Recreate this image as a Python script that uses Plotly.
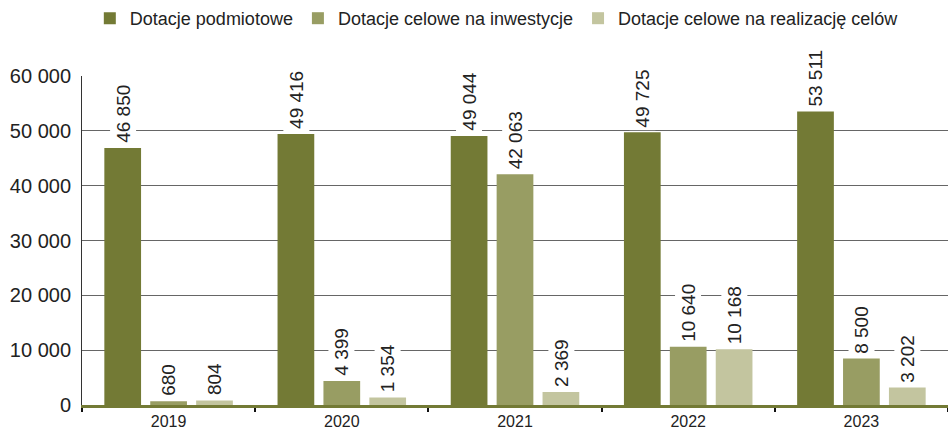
import plotly.graph_objects as go

years = ["2019", "2020", "2021", "2022", "2023"]
series_names = ["Dotacje podmiotowe", "Dotacje celowe na inwestycje", "Dotacje celowe na realizację celów"]
podmiotowe = [46850, 49416, 49044, 49725, 53511]
inwestycje = [680, 4399, 42063, 10640, 8500]
realizacja = [804, 1354, 2369, 10168, 3202]
y_ticks = [0, 10000, 20000, 30000, 40000, 50000, 60000]

colors = ["#737a35", "#989d63", "#c3c59f"]
FONT = "Liberation Sans, Arial, Helvetica, sans-serif"
BARGAP = 0.205
GROUPGAP = 0.2

fig = go.Figure()
all_series = [podmiotowe, inwestycje, realizacja]
for name, vals, c in zip(series_names, all_series, colors):
    fig.add_trace(go.Bar(x=years, y=vals, name=name, marker=dict(color=c, line=dict(width=0))))

slot = (1 - BARGAP) / len(all_series)
for j, vals in enumerate(all_series):
    for i, v in enumerate(vals):
        label = f"{v:,}".replace(",", " ")
        fig.add_annotation(
            x=i + (j - 1) * slot, y=v, xref="x", yref="y",
            text=label, textangle=-90, showarrow=False,
            xanchor="center", yanchor="bottom", yshift=2,
            bgcolor="white", borderpad=2,
            font=dict(family=FONT, size=19, color="#222222"),
        )

fig.update_layout(
    width=948, height=429,
    margin=dict(l=82, r=0, t=75, b=24),
    paper_bgcolor="white", plot_bgcolor="white",
    barmode="group", bargap=BARGAP, bargroupgap=GROUPGAP,
    separators=". ",
    font=dict(family=FONT, color="#222222"),
    showlegend=True,
    legend=dict(orientation="h", x=0.479, xanchor="center", y=1.175, yanchor="middle",
                font=dict(family=FONT, size=18, color="#222222"),
                itemwidth=30, tracegroupgap=0),
)
fig.update_xaxes(
    type="category", showline=True, linecolor="#737a35", linewidth=2.5,
    ticks="outside", tickson="boundaries", ticklen=4, tickcolor="#111111", tickwidth=1.5,
    tickfont=dict(family=FONT, size=16, color="#222222"),
    showgrid=False, automargin=False,
)
fig.update_yaxes(
    range=[0, 60000], tickvals=y_ticks, tickformat=",d",
    showgrid=True, gridcolor="#666666", gridwidth=1,
    zeroline=False, showline=True, linecolor="#333333", linewidth=1,
    ticks="", ticklabelstandoff=6,
    tickfont=dict(family=FONT, size=20, color="#222222"),
    automargin=False,
)

fig.write_html("out.html", config={"displayModeBar": False},
               post_script="document.body.style.margin='0';document.body.style.overflow='hidden';")
